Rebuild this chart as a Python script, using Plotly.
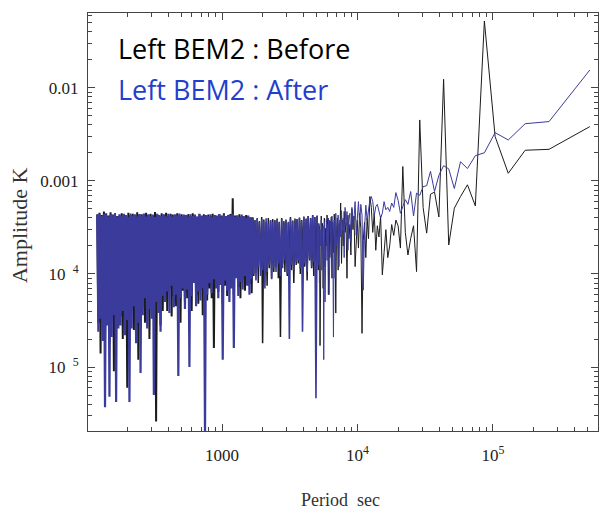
import numpy as np
import plotly.graph_objects as go

# Amplitude spectrum of a 6-day record sampled every 60 s.
RECORD_SEC = 518400

# Harmonics 1..100 (index 0 = harmonic 1), amplitudes in 1e-6 K
before_coarse = [
    3840, 2190, 2140, 1210, 3000, 52500, 540, 910, 680, 510,
    205, 12400, 410, 760, 720, 275, 520, 4530, 106, 330,
    240, 160, 280, 1430, 190, 330, 380, 260, 340, 200,
    150, 300, 170, 98, 420, 250, 330, 180, 450, 280,
    520, 680, 240, 400, 150, 360, 230, 23, 310, 450,
    190, 380, 270, 120, 420, 300, 500, 160, 340, 240,
    430, 90, 360, 280, 470, 200, 380, 130, 580, 260,
    350, 110, 400, 300, 38, 320, 440, 170, 360, 90,
    410, 270, 150, 380, 60, 330, 430, 200, 310, 120,
    400, 250, 70, 350, 180, 420, 110, 17, 330, 240,
]
after_coarse = [
    15600, 4350, 4130, 2760, 3310, 2010, 1870, 1360, 1610, 830,
    1350, 1460, 1150, 770, 1270, 890, 870, 700, 740, 420,
    770, 560, 630, 530, 450, 620, 750, 520, 580, 470,
    520, 490, 600, 450, 400, 470, 560, 530, 420, 600,
    680, 620, 500, 380, 550, 300, 67, 430, 560, 350,
    600, 480, 260, 600, 400, 330, 520, 220, 450, 380,
    180, 470, 330, 520, 150, 400, 290, 480, 250, 380,
    120, 430, 320, 200, 450, 90, 380, 21, 300, 420,
    160, 370, 250, 60, 400, 280, 140, 390, 220, 50,
    360, 12, 330, 260, 110, 380, 200, 300, 80, 350,
]

# Short-period band: harmonics from 4320 down to 101 (increasing period),
# amplitudes in 1e-6 K
before_dense = [
    440, 30, 455, 14, 430, 45, 470, 22, 445, 38, 425, 18, 460, 50, 435, 9, 450, 28, 420, 40,
    425, 35, 450, 20, 440, 48, 415, 6, 455, 30, 430, 42, 445, 25, 420, 55, 460, 12, 435, 38,
    440, 45, 420, 30, 455, 52, 430, 20, 445, 60, 425, 35, 465, 2.6, 435, 48, 418, 28, 450, 40,
    430, 62, 455, 40, 420, 70, 445, 35, 435, 58, 410, 45, 450, 80, 425, 30, 440, 66, 415, 50,
    425, 55, 440, 72, 418, 40, 450, 85, 430, 60, 412, 48, 445, 68, 420, 36, 438, 75, 428, 52,
    435, 70, 420, 55, 445, 16, 428, 82, 415, 64, 440, 90, 425, 48, 450, 75, 418, 58, 432, 95,
    440, 85, 650, 60, 425, 95, 410, 72, 438, 55, 420, 88, 405, 66, 430, 100, 415, 78, 398, 62,
    405, 95, 380, 110, 395, 80, 370, 120, 410, 18, 385, 100, 360, 75, 400, 115, 375, 90, 390, 105,
    380, 120, 395, 90, 365, 21, 400, 130, 370, 105, 385, 95, 355, 140, 410, 110, 375, 80, 395, 125,
    390, 130, 405, 100, 380, 145, 415, 120, 395, 85, 420, 140, 400, 115, 430, 95, 410, 135, 425, 110,
]
after_dense = [
    430, 24, 445, 33, 420, 19, 438, 3.7, 450, 28, 412, 4.8, 440, 21, 428, 36, 446, 4.2, 415, 26,
    440, 28, 420, 40, 445, 22, 430, 32, 410, 4.2, 448, 26, 425, 45, 438, 18, 415, 30, 442, 8.6,
    425, 36, 448, 55, 415, 26, 440, 42, 420, 33, 435, 5, 410, 50, 445, 38, 430, 24, 420, 58,
    440, 50, 418, 65, 445, 38, 428, 75, 412, 44, 438, 60, 425, 8, 446, 55, 420, 70, 435, 42,
    432, 68, 412, 10, 440, 58, 420, 80, 436, 45, 415, 65, 442, 52, 425, 70, 418, 1.8, 430, 60,
    420, 80, 438, 62, 410, 88, 430, 70, 425, 55, 442, 76, 415, 12, 436, 85, 420, 66, 428, 50,
    430, 70, 445, 16, 415, 90, 428, 58, 410, 82, 435, 68, 420, 95, 402, 75, 425, 60, 410, 88,
    395, 100, 370, 85, 400, 120, 360, 95, 385, 110, 375, 70, 398, 105, 350, 125, 380, 88, 365, 115,
    370, 105, 385, 130, 360, 95, 390, 115, 350, 140, 380, 100, 365, 20, 395, 125, 372, 110, 355, 135,
    385, 140, 400, 115, 375, 24, 410, 130, 390, 105, 418, 145, 395, 120, 428, 135, 405, 4.6, 420, 125,
]

harm_coarse = np.arange(1, len(before_coarse) + 1)
harm_dense = np.round(np.geomspace(4320, 101, len(before_dense))).astype(int)

# Dense band (joined to harmonic 100 so the curve stays continuous)
period_dense = np.append(RECORD_SEC / harm_dense, RECORD_SEC / harm_coarse[-1])
before_d = np.append(before_dense, before_coarse[-1]) * 1e-6
after_d = np.append(after_dense, after_coarse[-1]) * 1e-6

# Resolved long-period part, increasing period
period_coarse = RECORD_SEC / harm_coarse[::-1]
before_c = np.array(before_coarse[::-1]) * 1e-6
after_c = np.array(after_coarse[::-1]) * 1e-6

# The most crowded short-period stretch is stroked a little heavier
SPLIT = 140
pieces = [
    (slice(0, SPLIT + 1), 2.0, 2.2),
    (slice(SPLIT, None), 1.5, 1.6),
]

BLACK = "#1c1c1c"
BLUE = "#3b3b9b"
AXIS = "#444444"
SERIF = "Liberation Serif, Times New Roman, serif"

fig = go.Figure()
for sl, w_black, _ in pieces:
    fig.add_trace(go.Scatter(x=period_dense[sl], y=before_d[sl], mode="lines",
                             line=dict(color=BLACK, width=w_black), name="Before"))
fig.add_trace(go.Scatter(x=period_coarse, y=before_c, mode="lines",
                         line=dict(color=BLACK, width=1), name="Before"))
for sl, _, w_blue in pieces:
    fig.add_trace(go.Scatter(x=period_dense[sl], y=after_d[sl], mode="lines",
                             line=dict(color=BLUE, width=w_blue), name="After"))
fig.add_trace(go.Scatter(x=period_coarse, y=after_c, mode="lines",
                         line=dict(color=BLUE, width=1), name="After"))

x_minor = [m * 10 ** e for e in (2, 3, 4, 5) for m in range(2, 10)]
y_minor = [m * 10.0 ** e for e in (-6, -5, -4, -3, -2) for m in range(2, 10)]

fig.update_xaxes(
    type="log", range=[2.011, 5.775],
    tickvals=[1000, 1e4, 1e5], ticktext=["1000", "10<sup>4</sup>", "10<sup>5</sup>"],
    ticks="inside", ticklen=7, tickwidth=1, tickcolor=AXIS,
    showline=True, linecolor=AXIS, linewidth=1, mirror="allticks",
    showgrid=False, zeroline=False,
    minor=dict(tickvals=x_minor, ticks="inside", ticklen=4, tickwidth=1,
               tickcolor=AXIS, showgrid=False),
    tickfont=dict(family=SERIF, size=17, color="#222"),
    ticklabelstandoff=9,
)
fig.update_yaxes(
    type="log", range=[-5.688, -1.194],
    tickvals=[1e-5, 1e-4, 1e-3, 1e-2],
    ticktext=["10&nbsp;<sup>&nbsp;5</sup>", "10&nbsp;<sup>&nbsp;4</sup>", "0.001", "0.01"],
    ticks="inside", ticklen=7, tickwidth=1, tickcolor=AXIS,
    showline=True, linecolor=AXIS, linewidth=1, mirror="allticks",
    showgrid=False, zeroline=False,
    minor=dict(tickvals=y_minor, ticks="inside", ticklen=4, tickwidth=1,
               tickcolor=AXIS, showgrid=False),
    tickfont=dict(family=SERIF, size=17, color="#222"),
    ticklabelstandoff=5,
)

fig.update_layout(
    width=599, height=515,
    margin=dict(l=88, r=1, t=13, b=84),
    plot_bgcolor="white", paper_bgcolor="white",
    showlegend=False,
    annotations=[
        dict(text="Left BEM2 : Before", xref="paper", yref="paper",
             x=0.055, y=0.914, xanchor="left", yanchor="middle", showarrow=False,
             font=dict(family="Open Sans", size=27, color="#000")),
        dict(text="Left BEM2 : After", xref="paper", yref="paper",
             x=0.055, y=0.816, xanchor="left", yanchor="middle", showarrow=False,
             font=dict(family="Open Sans", size=27, color="#1f3fcc")),
        dict(text="Amplitude K", xref="paper", yref="paper",
             x=-0.133, y=0.493, xanchor="center", yanchor="middle", showarrow=False,
             textangle=-90, font=dict(family=SERIF, size=22, color="#333")),
        dict(text="Period  sec", xref="paper", yref="paper",
             x=0.496, y=-0.165, xanchor="center", yanchor="middle", showarrow=False,
             font=dict(family=SERIF, size=18, color="#333")),
    ],
)

fig.write_html("out.html")
